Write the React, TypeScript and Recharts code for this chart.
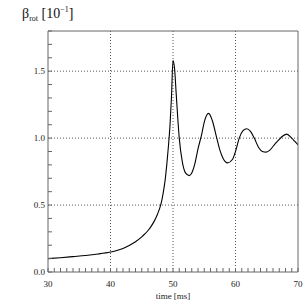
import { LineChart, Line, XAxis, YAxis, ReferenceLine } from 'recharts'

// time [ms]
const time = [
  30, 32, 34, 36, 38, 40, 41, 42, 43, 44, 45, 45.5, 46, 46.5, 47, 47.5, 48, 48.25, 48.5, 48.75, 49,
  49.25, 49.5, 49.75, 50, 50.25, 50.5, 51, 51.5, 52, 52.6, 53, 53.5, 54, 54.6, 55, 55.7, 56.3, 57,
  57.5, 58, 58.75, 59.5, 60, 60.6, 61.2, 61.8, 62.4, 63, 63.7, 64.3, 64.9, 65.5, 66.2, 67, 67.4,
  68.2, 69, 69.5, 70,
]
// beta_rot [10^-1]
const betaRot = [
  0.1, 0.107, 0.115, 0.123, 0.134, 0.149, 0.16, 0.176, 0.198, 0.226, 0.262, 0.284, 0.31, 0.341,
  0.38, 0.43, 0.495, 0.545, 0.61, 0.69, 0.8, 0.93, 1.08, 1.3, 1.58, 1.52, 1.34, 1.0, 0.82, 0.74,
  0.72, 0.74, 0.81, 0.92, 1.03, 1.12, 1.185, 1.13, 1.0, 0.91, 0.85, 0.815, 0.84, 0.9, 1.0, 1.055,
  1.07, 1.05, 1.0, 0.93, 0.9, 0.895, 0.91, 0.95, 0.99, 1.01, 1.03, 1.0, 0.975, 0.95,
]

const xMajor = [30, 40, 50, 60, 70]
const yMajor = [0, 0.5, 1.0, 1.5]
const xGrid = [40, 50, 60]
const yGrid = [0.5, 1.0, 1.5]

const xMinor = Array.from({ length: 41 }, (_, i) => 30 + i)
const yMinor = Array.from({ length: 19 }, (_, i) => Math.round(i * 10) / 100)

const data = time.map((t, i) => ({ t, b: betaRot[i] }))

const axisColor = '#666'
const gridColor = '#555'
const font = '"Liberation Serif", "DejaVu Serif", serif'

export default function App() {
  return (
    <div style={{ position: 'absolute', left: 0, top: 0, width: 305, height: 305, background: '#fff', fontFamily: font }}>
      <LineChart width={305} height={305} data={data} margin={{ top: 30, right: 6, bottom: 13, left: 8 }}>
        <XAxis
          dataKey="t"
          type="number"
          domain={[30, 70]}
          ticks={xMinor}
          interval={0}
          tickSize={-4}
          tickMargin={13}
          height={20}
          tickFormatter={(v: number) => (xMajor.includes(v) ? String(v) : '')}
          tick={{ fontSize: 9, fill: '#222', fontFamily: font }}
          stroke={axisColor}
          allowDataOverflow
        />
        <XAxis
          xAxisId="top"
          orientation="top"
          dataKey="t"
          type="number"
          domain={[30, 70]}
          ticks={xMinor}
          interval={0}
          tickSize={-4}
          height={1}
          tick={false}
          stroke={axisColor}
        />
        <YAxis
          type="number"
          domain={[0, 1.8]}
          ticks={yMinor}
          interval={0}
          tickSize={-4}
          tickMargin={7}
          width={40}
          tickFormatter={(v: number) => (yMajor.some((m) => Math.abs(m - v) < 1e-6) ? v.toFixed(1) : '')}
          tick={{ fontSize: 9, fill: '#222', fontFamily: font }}
          stroke={axisColor}
          allowDataOverflow
        />
        <YAxis
          yAxisId="right"
          orientation="right"
          type="number"
          domain={[0, 1.8]}
          ticks={yMinor}
          interval={0}
          tickSize={-4}
          width={1}
          tick={false}
          stroke={axisColor}
        />
        {xGrid.map((x) => (
          <ReferenceLine key={'x' + x} x={x} stroke={gridColor} strokeDasharray="1 2" strokeWidth={1} />
        ))}
        {yGrid.map((y) => (
          <ReferenceLine key={'y' + y} y={y} stroke={gridColor} strokeDasharray="1 2" strokeWidth={1} />
        ))}
        <Line
          dataKey="b"
          type="monotone"
          stroke="#000"
          strokeWidth={1.1}
          dot={false}
          isAnimationActive={false}
        />
      </LineChart>
      <div style={{ position: 'absolute', left: 22, top: 5, fontSize: 14, color: '#111', whiteSpace: 'nowrap' }}>
        β<sub style={{ fontSize: 8 }}>rot</sub> [10<sup style={{ fontSize: 8 }}>−1</sup>]
      </div>
      <div style={{ position: 'absolute', left: 0, width: 346, top: 291, textAlign: 'center', fontSize: 9, color: '#222' }}>
        time [ms]
      </div>
    </div>
  )
}
